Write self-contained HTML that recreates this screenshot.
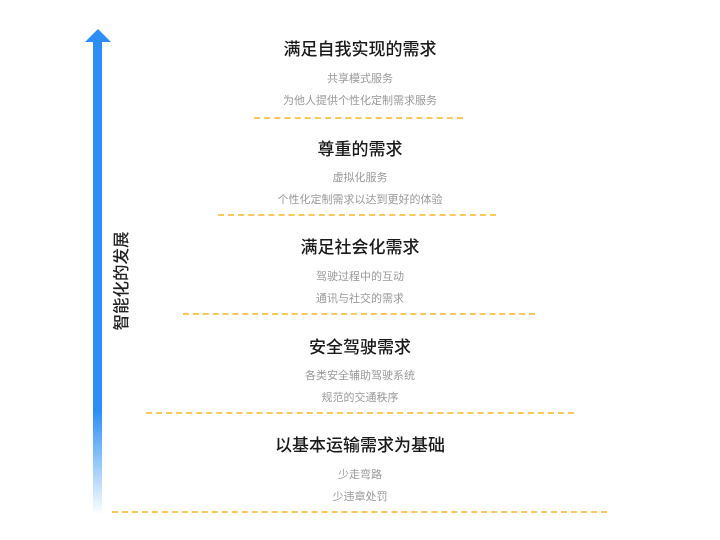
<!DOCTYPE html>
<html><head><meta charset="utf-8"><style>
body{margin:0;width:720px;height:540px;background:#fff;position:relative;overflow:hidden;font-family:"Liberation Sans","Noto Sans CJK SC",sans-serif}
.t{position:absolute;left:0;width:720px;text-align:center;font-size:17px;font-weight:500;color:#1a1a1a;line-height:20px}
.s{position:absolute;left:0;width:720px;text-align:center;font-size:11px;color:#999;line-height:14px}
.d{position:absolute;height:0;border-top:2px dashed #fbc65a}
</style></head><body>
<div style="position:absolute;left:93px;top:40px;width:9px;height:475px;background:linear-gradient(#2b8ff7 0%,#2b8ff7 78%,#fff 100%)"></div>
<div style="position:absolute;left:85px;top:29px;width:0;height:0;border-left:13px solid transparent;border-right:13px solid transparent;border-bottom:13px solid #2b8ff7"></div>
<div style="position:absolute;left:72px;top:272px;width:100px;text-align:center;font-size:16.5px;line-height:18px;color:#222;font-weight:500;transform:rotate(-90deg)">智能化的发展</div>

<div class="t" style="top:40px">满足自我实现的需求</div>
<div class="s" style="top:72px">共享模式服务</div>
<div class="s" style="top:94px">为他人提供个性化定制需求服务</div>
<div class="d" style="left:254px;width:209px;top:117px"></div>

<div class="t" style="top:140px">尊重的需求</div>
<div class="s" style="top:171px">虚拟化服务</div>
<div class="s" style="top:193px">个性化定制需求以达到更好的体验</div>
<div class="d" style="left:218px;width:278px;top:214px"></div>

<div class="t" style="top:238px">满足社会化需求</div>
<div class="s" style="top:270px">驾驶过程中的互动</div>
<div class="s" style="top:292px">通讯与社交的需求</div>
<div class="d" style="left:183px;width:352px;top:313px"></div>

<div class="t" style="top:338px">安全驾驶需求</div>
<div class="s" style="top:369px">各类安全辅助驾驶系统</div>
<div class="s" style="top:391px">规范的交通秩序</div>
<div class="d" style="left:146px;width:428px;top:412px"></div>

<div class="t" style="top:436px">以基本运输需求为基础</div>
<div class="s" style="top:468px">少走弯路</div>
<div class="s" style="top:490px">少违章处罚</div>
<div class="d" style="left:112px;width:495px;top:511px"></div>
</body></html>
